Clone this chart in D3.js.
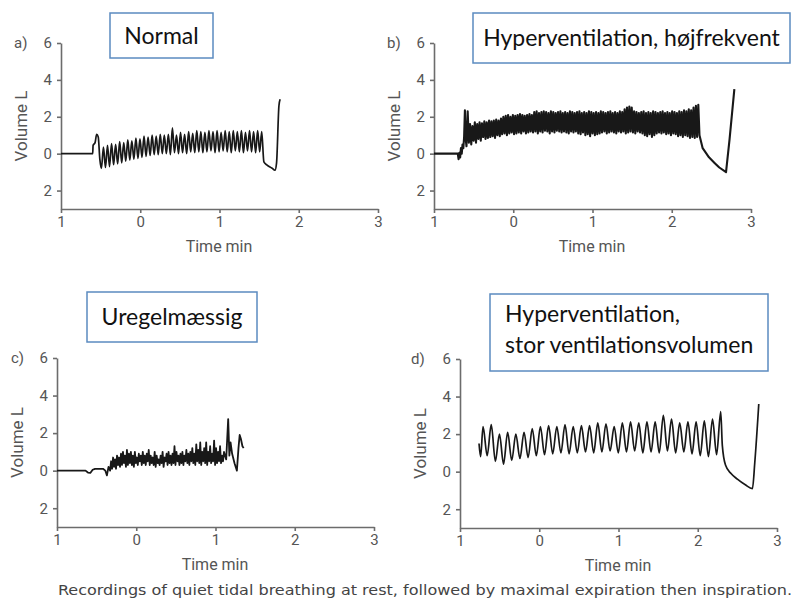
<!DOCTYPE html>
<html>
<head>
<meta charset="utf-8">
<script src="https://cdn.jsdelivr.net/npm/d3@7"></script>
<style>
body { margin: 0; background: #fff; }
</style>
</head>
<body>
<svg id="chart" width="795" height="604"></svg>
<script>
// axis ticks (labels are shown without sign, as in the original figure)
var xTicks = [-1, 0, 1, 2, 3];
var yTicks = [6, 4, 2, 0, -2];

var titles = ["Normal", "Hyperventilation, højfrekvent", "Uregelmæssig",
              ["Hyperventilation,", "stor ventilationsvolumen"]];
var letters = ["a)", "b)", "c)", "d)"];
var caption = "Recordings of quiet tidal breathing at rest, followed by maximal expiration then inspiration.";

// --- a) Normal: [time min, volume L]
var aLead = [[-1, 0], [-0.60, 0], [-0.595, 0.45], [-0.57, 0.6], [-0.55, 1.05], [-0.53, 0.9], [-0.51, -0.3]];
var aStart = -0.49, aStep = 0.0256;   // alternating trough / peak
var aWave = [
	-0.80, 0.35, -0.75, 0.45, -0.70, 0.55, -0.60, 0.50, -0.55, 0.65,
	-0.50, 0.60, -0.40, 0.75, -0.35, 0.70, -0.30, 0.85, -0.25, 0.80,
	-0.20, 0.95, -0.15, 0.90, -0.10, 1.00, -0.05, 0.95, -0.05, 1.05,
	 0.00, 1.00,  0.00, 1.05, -0.05, 1.40,  0.05, 1.00,  0.00, 1.15,
	 0.05, 1.05,  0.00, 1.20,  0.10, 1.10,  0.05, 1.25,  0.10, 1.20,
	 0.05, 1.15,  0.10, 1.25,  0.15, 1.20,  0.05, 1.25,  0.10, 1.15,
	 0.15, 1.25,  0.10, 1.20,  0.05, 1.25,  0.15, 1.20,  0.10, 1.25,
	 0.05, 1.15,  0.15, 1.25,  0.10, 1.20,  0.05, 1.25,  0.10, 1.20
];
var aTail = [[1.56, -0.45], [1.60, -0.62], [1.66, -0.78], [1.70, -0.9], [1.72, -0.5], [1.75, 2.6], [1.765, 2.95]];

// --- b) high frequency
var bLead = [[-1, 0], [-0.70, 0], [-0.69, -0.3], [-0.68, 0.05], [-0.67, -0.2], [-0.66, 0.3], [-0.65, 0.0],
             [-0.64, 0.5], [-0.63, 0.3], [-0.62, 0.9], [-0.61, 2.35], [-0.60, 0.8]];
var bStart = -0.59, bStep = 0.015;
var bTroughs = [
	0.4, 0.6, 0.5, 0.7,
	0.6, 0.8, 0.7, 0.9, 0.8, 0.85, 0.9, 0.95, 0.85, 1.0, 0.95,
	1.05, 1.1, 1.0, 1.1, 1.15, 1.05, 1.1, 1.15, 1.1, 1.2, 1.1, 1.15, 1.2,
	1.15, 1.2, 1.1, 1.2, 1.15, 1.25, 1.2, 1.1, 1.2, 1.15, 1.25, 1.2, 1.15,
	1.2, 1.15, 1.1, 1.2, 1.15, 1.2, 1.1, 1.05, 1.15, 1.0, 1.05, 0.95, 1.1, 1.0, 1.05, 1.1,
	1.15, 1.2, 1.1, 1.15, 1.2, 1.15, 1.1, 1.2, 1.15, 1.2, 1.1, 1.15, 1.2, 1.15, 1.1, 1.2,
	1.15, 1.1, 1.0, 0.95, 1.05, 0.9, 1.0, 1.1, 1.15, 1.1, 1.15, 1.05, 1.1,
	1.0, 1.1, 1.05, 0.95, 1.0, 0.9, 1.0, 0.95, 0.85, 0.9, 0.85, 0.9
];
var bPeaks = [
	2.3, 1.6, 1.5, 1.7,
	1.6, 1.7, 1.65, 1.75, 1.7, 1.8, 1.75, 1.8, 1.85, 1.8, 1.9,
	2.0, 2.05, 2.1, 2.0, 2.1, 2.05, 2.1, 2.15, 2.1, 2.05, 2.1, 2.15, 2.1,
	2.25, 2.3, 2.2, 2.25, 2.3, 2.25, 2.2, 2.3, 2.25, 2.2, 2.25, 2.3, 2.2,
	2.25, 2.2, 2.3, 2.25, 2.2, 2.25, 2.3, 2.2, 2.25, 2.2, 2.3, 2.25, 2.2, 2.25, 2.2, 2.3,
	2.25, 2.2, 2.25, 2.3, 2.2, 2.25, 2.2, 2.3, 2.25, 2.4, 2.5, 2.55, 2.5, 2.3, 2.25, 2.2,
	2.25, 2.3, 2.2, 2.25, 2.2, 2.3, 2.25, 2.2, 2.25, 2.3, 2.2, 2.25, 2.2,
	2.3, 2.25, 2.2, 2.3, 2.25, 2.35, 2.3, 2.4, 2.35, 2.5, 2.6, 2.65
];
var bTail = [[2.35, 1.0], [2.39, 0.3], [2.47, -0.2], [2.54, -0.5], [2.6, -0.75], [2.685, -1.0], [2.73, 0.8], [2.79, 3.5]];

// --- c) irregular
var cLead = [[-1, 0], [-0.64, 0], [-0.61, -0.1], [-0.58, -0.12], [-0.55, 0.05], [-0.52, 0.1], [-0.42, 0.1],
             [-0.39, 0.0], [-0.37, -0.25], [-0.35, 0.2]];
var cStart = -0.33, cStep = 0.0125;   // alternating low / high
var cWave = [
	0.0, 0.5, 0.1, 0.7, 0.2, 0.6, 0.1, 0.8, 0.3, 0.7,
	0.2, 0.9, 0.3, 1.0, 0.4, 0.8, 0.2, 1.1, 0.3, 0.9,
	0.4, 1.0, 0.3, 0.8, 0.2, 1.0, 0.4, 0.7, 0.3, 0.9,
	0.5, 0.8, 0.3, 1.0, 0.4, 0.8, 0.3, 0.9, 0.5, 1.1,
	0.3, 0.8, 0.4, 0.7, 0.3, 1.0, 0.2, 0.8, 0.4, 0.6,
	0.3, 0.8, 0.4, 1.0, 0.2, 0.7, 0.5, 0.9, 0.3, 1.0,
	0.4, 0.8, 0.3, 0.9, 0.4, 1.3, 0.3, 1.0, 0.5, 0.8,
	0.3, 0.9, 0.4, 1.0, 0.3, 0.8, 0.5, 1.1, 0.4, 0.9,
	0.3, 1.0, 0.5, 1.2, 0.4, 0.9, 0.3, 1.4, 0.5, 1.1,
	0.4, 1.5, 0.3, 1.0, 0.5, 1.2, 0.4, 1.5, 0.3, 1.0,
	0.5, 1.3, 0.4, 0.9, 0.5, 1.6, 0.3, 1.2, 0.4, 1.0,
	0.5, 1.3, 0.4, 0.8, 0.5, 1.0
];
var cTail = [[1.135, 0.6], [1.16, 2.75], [1.175, 0.8], [1.19, 1.5], [1.21, 0.9], [1.24, 0.4], [1.27, 0.0],
             [1.29, 1.2], [1.305, 1.9], [1.32, 1.7], [1.34, 1.3], [1.355, 1.2]];

// --- d) large tidal volume
var dLead = [[-0.76, 1.5], [-0.74, 0.8]];
var dStart = -0.709, dStep = 0.0517;  // alternating peak / trough
var dPeaks = [2.4, 2.5, 2.0, 2.1, 2.0, 2.1, 2.3, 2.4, 2.45, 2.4, 2.5, 2.4, 2.45, 2.45, 2.6,
              2.55, 2.4, 2.6, 2.65, 2.6, 2.65, 2.65, 3.0, 2.8, 2.6, 2.65, 2.65, 2.7, 2.8, 3.2];
var dTroughs = [0.85, 0.55, 0.4, 0.6, 0.7, 0.75, 0.85, 0.9, 0.95, 1.0, 0.95, 1.0, 1.05, 1.0, 1.05,
                1.1, 1.0, 1.05, 1.1, 1.0, 1.05, 1.0, 1.1, 1.0, 1.05, 0.95, 0.85, 0.8, 0.9];
var dTail = [[2.31, 1.4], [2.35, 0.35], [2.42, -0.1], [2.5, -0.4], [2.6, -0.7], [2.69, -0.9], [2.72, 0.5], [2.77, 3.6]];


function evenly(start, step, vals) {
	return vals.map(function (v, i) { return [start + i * step, v]; });
}

function interleave(first, second) {
	var out = [];
	for (var i = 0; i < first.length; i++) {
		out.push(first[i]);
		if (i < second.length) out.push(second[i]);
	}
	return out;
}

var traceA = aLead.concat(evenly(aStart, aStep, aWave), aTail);
var traceB = bLead.concat(evenly(bStart, bStep, interleave(bTroughs, bPeaks)), bTail);
var traceC = cLead.concat(evenly(cStart, cStep, cWave), cTail);
var traceD = dLead.concat(evenly(dStart, dStep, interleave(dPeaks, dTroughs)), dTail);

var svg = d3.select("#chart");
var AXIS_COL = "#6c6c6c";
var TEXT_COL = "#555";
var LINE_COL = "#181818";
var BOX_COL = "#5b8bc0";

// plot frames
var layout = [
	{ left: 61,  top: 43,  bottom: 209, letterX: 14,  box: [110, 13, 103, 45], lw: 1.7 },
	{ left: 434, top: 43,  bottom: 209, letterX: 387, box: [473, 13, 317, 50], lw: 2.1 },
	{ left: 57,  top: 358, bottom: 527, letterX: 11,  box: [87, 292, 170, 50], lw: 1.8 },
	{ left: 460, top: 359, bottom: 528, letterX: 411, box: [490, 294, 278, 77], lw: 1.7 }
];

function drawPanel(i, trace, curve) {
	var p = layout[i];
	var x = d3.scaleLinear().domain([-1, 3]).range([p.left, p.left + 317]);
	var y = d3.scaleLinear().domain([-3, 6]).range([p.bottom, p.top]);
	var g = svg.append("g");

	var gx = g.append("g")
		.attr("transform", "translate(0," + p.bottom + ")")
		.call(d3.axisBottom(x).tickValues(xTicks).tickFormat(function (d) { return Math.abs(d); })
			.tickSize(4).tickSizeOuter(0).tickPadding(3));
	var gy = g.append("g")
		.attr("transform", "translate(" + p.left + ",0)")
		.call(d3.axisLeft(y).tickValues(yTicks).tickFormat(function (d) { return Math.abs(d); })
			.tickSize(4).tickSizeOuter(0).tickPadding(5));

	[gx, gy].forEach(function (ax) {
		ax.selectAll("path, line").attr("stroke", AXIS_COL).attr("stroke-width", 1.6);
		ax.selectAll("text").attr("fill", TEXT_COL).attr("font-family", "Roboto, sans-serif")
			.attr("font-size", 15);
	});

	g.append("text")
		.attr("x", p.left + 158).attr("y", p.bottom + 43)
		.attr("text-anchor", "middle")
		.attr("fill", TEXT_COL).attr("font-family", "Roboto, sans-serif").attr("font-size", 16)
		.text("Time min");

	g.append("text")
		.attr("transform", "translate(" + (p.left - 34) + "," + (y(1.5)) + ") rotate(-90)")
		.attr("text-anchor", "middle")
		.attr("fill", TEXT_COL).attr("font-family", "Roboto, sans-serif").attr("font-size", 17)
		.text("Volume L");

	g.append("text")
		.attr("x", p.letterX).attr("y", y(6) + 5)
		.attr("fill", TEXT_COL).attr("font-family", "Roboto, sans-serif").attr("font-size", 15)
		.text(letters[i]);

	var line = d3.line()
		.x(function (d) { return x(d[0]); })
		.y(function (d) { return y(d[1]); })
		.curve(curve);

	g.append("path")
		.datum(trace)
		.attr("d", line)
		.attr("fill", "none")
		.attr("stroke", LINE_COL)
		.attr("stroke-width", p.lw)
		.attr("stroke-linejoin", "round");

	// title box
	var b = p.box;
	g.append("rect")
		.attr("x", b[0]).attr("y", b[1]).attr("width", b[2]).attr("height", b[3])
		.attr("fill", "#fff").attr("stroke", BOX_COL).attr("stroke-width", 1.5);

	var lines = Array.isArray(titles[i]) ? titles[i] : [titles[i]];
	var tt = g.append("text")
		.attr("font-family", "Lato, 'Open Sans', sans-serif").attr("font-size", 23)
		.attr("fill", "#111");
	if (lines.length === 1) {
		tt.attr("x", b[0] + b[2] / 2).attr("y", b[1] + b[3] / 2 + 8).attr("text-anchor", "middle").text(lines[0]);
	} else {
		lines.forEach(function (s, k) {
			tt.append("tspan").attr("x", b[0] + 15).attr("y", b[1] + 28 + k * 31).text(s);
		});
	}
}

drawPanel(0, traceA, d3.curveMonotoneX);
drawPanel(1, traceB, d3.curveLinear);
drawPanel(2, traceC, d3.curveLinear);
drawPanel(3, traceD, d3.curveMonotoneX);

svg.append("text")
	.attr("x", 58).attr("y", 595)
	.attr("textLength", 734).attr("lengthAdjust", "spacingAndGlyphs")
	.attr("fill", "#444").attr("font-family", "'DejaVu Sans Condensed', 'Roboto', sans-serif").attr("font-size", 14)
	.text(caption);
</script>
</body>
</html>
